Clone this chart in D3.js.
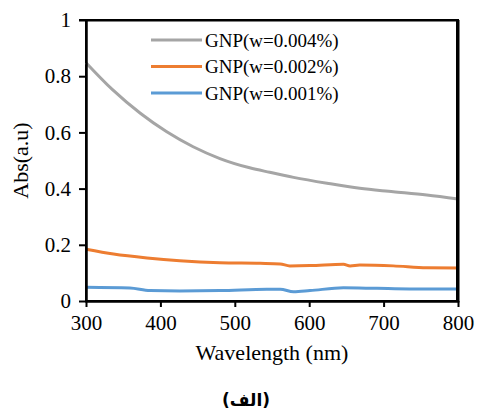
<!DOCTYPE html>
<html><head><meta charset="utf-8">
<script src="https://cdn.jsdelivr.net/npm/d3@7"></script>
<style>body{margin:0;background:#fff}svg{display:block}#wrap{position:relative;width:478px;height:412px}</style>
</head><body><div id="wrap"><svg id="c" width="478" height="412"></svg></div>
<script>
const seriesNames = ["GNP(w=0.004%)", "GNP(w=0.002%)", "GNP(w=0.001%)"];
const seriesColors = ["#A5A5A5", "#ED7D31", "#5B9BD5"];
const wl004 = [300, 336, 373, 408, 444, 480, 520, 547, 579, 624, 668, 713, 758, 800];
const abs004 = [0.848, 0.751, 0.668, 0.603, 0.549, 0.507, 0.474, 0.458, 0.440, 0.419, 0.401, 0.389, 0.377, 0.363];
const wl002 = [300, 337, 382, 426, 480, 534, 561, 574, 601, 646, 655, 668, 713, 758, 800];
const abs002 = [0.184, 0.167, 0.153, 0.143, 0.136, 0.134, 0.132, 0.125, 0.126, 0.131, 0.125, 0.128, 0.125, 0.118, 0.117];
const wl001 = [300, 359, 386, 426, 480, 543, 561, 579, 601, 646, 691, 735, 800];
const abs001 = [0.049, 0.046, 0.037, 0.036, 0.037, 0.042, 0.042, 0.033, 0.037, 0.047, 0.045, 0.043, 0.043];
const xTicks = [300, 400, 500, 600, 700, 800];
const yTicks = [0, 0.2, 0.4, 0.6, 0.8, 1];

const svg = d3.select("#c");
const m = {l: 86, r: 20, t: 20, b: 111};
const W = 478, H = 412;
const x = d3.scaleLinear().domain([300, 800]).range([m.l, W - m.r]);
const y = d3.scaleLinear().domain([0, 1]).range([H - m.b, m.t]);
const font = "Liberation Serif, Times New Roman, serif";
const pw = W - m.r - m.l, ph = H - m.b - m.t;

// plot-area frame
svg.append("rect").attr("x", x(300)).attr("y", y(1)).attr("width", x(800) - x(300)).attr("height", y(0) - y(1))
  .attr("fill", "none").attr("stroke", "black").attr("stroke-width", 2);
d3.select("#wrap").append("div")
  .style("position", "absolute").style("left", (x(300) - 7) + "px").style("top", (y(1) - 1) + "px")
  .style("width", (x(800) - x(300) + 7) + "px").style("height", (y(0) - y(1)) + "px")
  .style("border-top", "2px solid #000").style("border-right", "2px solid #000")
  .style("box-sizing", "border-box").style("pointer-events", "none");

const line = d3.line().x(d => x(d[0])).y(d => y(d[1])).curve(d3.curveMonotoneX);
const data = [d3.zip(wl004, abs004), d3.zip(wl002, abs002), d3.zip(wl001, abs001)];
data.forEach((s, i) => {
  svg.append("path").datum(s).attr("d", line).attr("fill", "none")
    .attr("stroke", seriesColors[i]).attr("stroke-width", 3);
});

const xa = svg.append("g").attr("transform", `translate(0,${H - m.b})`)
  .call(d3.axisBottom(x).tickValues(xTicks).tickFormat(d3.format("d")).tickSize(6).tickSizeOuter(-ph).tickPadding(8));
const ya = svg.append("g").attr("transform", `translate(${m.l},0)`)
  .call(d3.axisLeft(y).tickValues(yTicks).tickFormat(d => d === 0 || d === 1 ? String(d) : d.toFixed(1)).tickSize(7).tickSizeOuter(-pw).tickPadding(8));
[xa, ya].forEach(a => {
  a.attr("font-family", font);
  a.select(".domain").attr("stroke", "#000").attr("stroke-width", 2).attr("fill", "none");
  a.selectAll(".tick line").attr("stroke", "#000").attr("stroke-width", 2);
  a.selectAll(".tick text").style("font-family", font).attr("font-size", 21).attr("fill", "#000");
});

// legend
seriesNames.forEach((n, i) => {
  const ly = 40 + i * 26.5;
  svg.append("line").attr("x1", 151).attr("x2", 202).attr("y1", ly).attr("y2", ly)
    .attr("stroke", seriesColors[i]).attr("stroke-width", 3);
  svg.append("text").attr("x", 205).attr("y", ly + 6.5).style("font-family", font).attr("font-size", 19)
    .attr("fill", "#000").text(n);
});

svg.append("text").attr("x", (m.l + W - m.r) / 2).attr("y", 360).attr("text-anchor", "middle")
  .style("font-family", font).attr("font-size", 22).attr("fill", "#000").text("Wavelength (nm)");
svg.append("text").attr("transform", `translate(28,${(m.t + H - m.b) / 2}) rotate(-90)`).attr("text-anchor", "middle")
  .style("font-family", font).attr("font-size", 22).attr("fill", "#000").text("Abs(a.u)");
svg.append("text").attr("x", 246).attr("y", 406).attr("text-anchor", "middle")
  .style("font-family", "DejaVu Sans, Noto Sans, sans-serif").attr("font-weight", "bold").attr("font-size", 17)
  .attr("fill", "#000").text("(الف)");
</script></body></html>
